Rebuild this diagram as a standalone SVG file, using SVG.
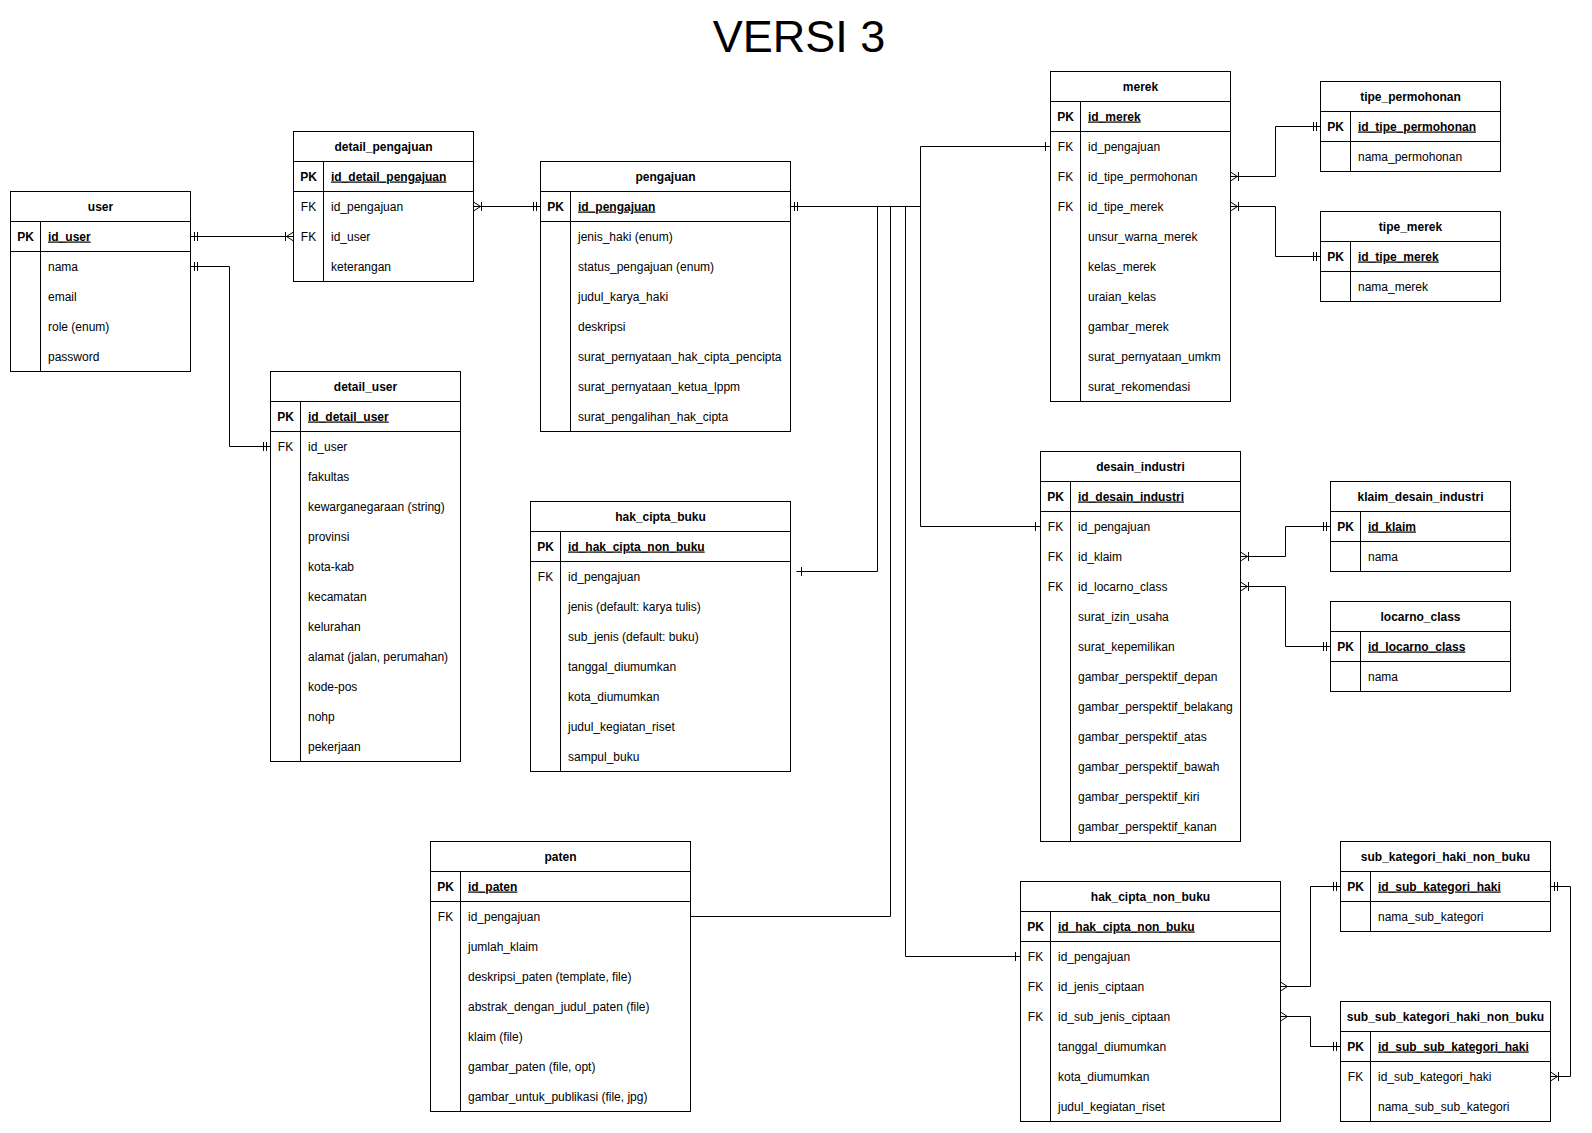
<svg xmlns="http://www.w3.org/2000/svg" width="1592" height="1133" viewBox="0 0 1592 1133">
<style>
.tb{fill:#fff;stroke:#000;stroke-width:1}
.ln{fill:none;stroke:#000;stroke-width:1}
.m{fill:none;stroke:#000;stroke-width:1}
text{font-family:"Liberation Sans",Arial,Helvetica,sans-serif;font-size:12px;fill:#000}
.h{font-weight:bold;text-anchor:middle}
.k{text-anchor:middle}
.kb{text-anchor:middle;font-weight:bold}
.pk{font-weight:bold;text-decoration:underline}
.title{font-size:45px;text-anchor:middle}
</style>
<defs>
<marker id="mandOne" markerUnits="userSpaceOnUse" orient="auto-start-reverse" refX="0" refY="0" viewBox="-12 -6 14 12" markerWidth="14" markerHeight="12" overflow="visible"><path class="m" d="M-4,-4.5V4.5M-7,-4.5V4.5"/></marker>
<marker id="one" markerUnits="userSpaceOnUse" orient="auto-start-reverse" refX="0" refY="0" viewBox="-12 -6 14 12" markerWidth="14" markerHeight="12" overflow="visible"><path class="m" d="M-5,-4.5V4.5"/></marker>
<marker id="oneToMany" markerUnits="userSpaceOnUse" orient="auto-start-reverse" refX="0" refY="0" viewBox="-12 -6 14 12" markerWidth="14" markerHeight="12" overflow="visible"><path class="m" d="M-7,0L0,-4.5M-7,0L0,4.5M-8,-4.5V4.5"/></marker>
<marker id="many" markerUnits="userSpaceOnUse" orient="auto-start-reverse" refX="0" refY="0" viewBox="-12 -6 14 12" markerWidth="14" markerHeight="12" overflow="visible"><path class="m" d="M-7,0L0,-4.5M-7,0L0,4.5"/></marker>
</defs>
<rect x="0" y="0" width="1592" height="1133" fill="#fff"/>
<text class="title" x="799" y="52">VERSI 3</text>

<g id="connectors">
<path class="ln" d="M190.5,236.5H293.5" marker-start="url(#mandOne)" marker-end="url(#oneToMany)"/>
<path class="ln" d="M190.5,266.5H229.5V446.5H270.5" marker-start="url(#mandOne)" marker-end="url(#mandOne)"/>
<path class="ln" d="M473.5,206.5H540.5" marker-start="url(#oneToMany)" marker-end="url(#mandOne)"/>
<path class="ln" d="M790.5,206.5H920.5V146.5H1050.5" marker-start="url(#mandOne)" marker-end="url(#one)"/>
<path class="ln" d="M790.5,206.5H920.5V526.5H1040.5" marker-end="url(#one)"/>
<path class="ln" d="M790.5,206.5H877.5V571.5H796.5" marker-end="url(#one)"/>
<path class="ln" d="M790.5,206.5H890.5V916.5H690.5"/>
<path class="ln" d="M790.5,206.5H905.5V956.5H1020.5" marker-end="url(#one)"/>
<path class="ln" d="M1230.5,176.5H1275.5V126.5H1320.5" marker-start="url(#oneToMany)" marker-end="url(#mandOne)"/>
<path class="ln" d="M1230.5,206.5H1275.5V256.5H1320.5" marker-start="url(#oneToMany)" marker-end="url(#mandOne)"/>
<path class="ln" d="M1240.5,556.5H1285.5V526.5H1330.5" marker-start="url(#oneToMany)" marker-end="url(#mandOne)"/>
<path class="ln" d="M1240.5,586.5H1285.5V646.5H1330.5" marker-start="url(#oneToMany)" marker-end="url(#mandOne)"/>
<path class="ln" d="M1280.5,986.5H1310.5V886.5H1340.5" marker-start="url(#many)" marker-end="url(#mandOne)"/>
<path class="ln" d="M1280.5,1016.5H1310.5V1046.5H1340.5" marker-start="url(#many)" marker-end="url(#mandOne)"/>
<path class="ln" d="M1550.5,886.5H1570.5V1076.5H1550.5" marker-start="url(#mandOne)" marker-end="url(#oneToMany)"/>
</g>

<g id="user">
<rect class="tb" x="10.5" y="191.5" width="180" height="180"/>
<path class="ln" d="M10.5,221.5H190.5M10.5,251.5H190.5M40.5,221.5V371.5"/>
<text class="h" x="100.5" y="210.5">user</text>
<text class="kb" x="25.5" y="240.5">PK</text><text class="pk" x="48" y="240.5">id_user</text>
<text x="48" y="270.5">nama</text>
<text x="48" y="300.5">email</text>
<text x="48" y="330.5">role (enum)</text>
<text x="48" y="360.5">password</text>
</g>

<g id="detail_pengajuan">
<rect class="tb" x="293.5" y="131.5" width="180" height="150"/>
<path class="ln" d="M293.5,161.5H473.5M293.5,191.5H473.5M323.5,161.5V281.5"/>
<text class="h" x="383.5" y="150.5">detail_pengajuan</text>
<text class="kb" x="308.5" y="180.5">PK</text><text class="pk" x="331" y="180.5">id_detail_pengajuan</text>
<text class="k" x="308.5" y="210.5">FK</text><text x="331" y="210.5">id_pengajuan</text>
<text class="k" x="308.5" y="240.5">FK</text><text x="331" y="240.5">id_user</text>
<text x="331" y="270.5">keterangan</text>
</g>

<g id="detail_user">
<rect class="tb" x="270.5" y="371.5" width="190" height="390"/>
<path class="ln" d="M270.5,401.5H460.5M270.5,431.5H460.5M300.5,401.5V761.5"/>
<text class="h" x="365.5" y="390.5">detail_user</text>
<text class="kb" x="285.5" y="420.5">PK</text><text class="pk" x="308" y="420.5">id_detail_user</text>
<text class="k" x="285.5" y="450.5">FK</text><text x="308" y="450.5">id_user</text>
<text x="308" y="480.5">fakultas</text>
<text x="308" y="510.5">kewarganegaraan (string)</text>
<text x="308" y="540.5">provinsi</text>
<text x="308" y="570.5">kota-kab</text>
<text x="308" y="600.5">kecamatan</text>
<text x="308" y="630.5">kelurahan</text>
<text x="308" y="660.5">alamat (jalan, perumahan)</text>
<text x="308" y="690.5">kode-pos</text>
<text x="308" y="720.5">nohp</text>
<text x="308" y="750.5">pekerjaan</text>
</g>

<g id="pengajuan">
<rect class="tb" x="540.5" y="161.5" width="250" height="270"/>
<path class="ln" d="M540.5,191.5H790.5M540.5,221.5H790.5M570.5,191.5V431.5"/>
<text class="h" x="665.5" y="180.5">pengajuan</text>
<text class="kb" x="555.5" y="210.5">PK</text><text class="pk" x="578" y="210.5">id_pengajuan</text>
<text x="578" y="240.5">jenis_haki (enum)</text>
<text x="578" y="270.5">status_pengajuan (enum)</text>
<text x="578" y="300.5">judul_karya_haki</text>
<text x="578" y="330.5">deskripsi</text>
<text x="578" y="360.5">surat_pernyataan_hak_cipta_pencipta</text>
<text x="578" y="390.5">surat_pernyataan_ketua_lppm</text>
<text x="578" y="420.5">surat_pengalihan_hak_cipta</text>
</g>

<g id="hak_cipta_buku">
<rect class="tb" x="530.5" y="501.5" width="260" height="270"/>
<path class="ln" d="M530.5,531.5H790.5M530.5,561.5H790.5M560.5,531.5V771.5"/>
<text class="h" x="660.5" y="520.5">hak_cipta_buku</text>
<text class="kb" x="545.5" y="550.5">PK</text><text class="pk" x="568" y="550.5">id_hak_cipta_non_buku</text>
<text class="k" x="545.5" y="580.5">FK</text><text x="568" y="580.5">id_pengajuan</text>
<text x="568" y="610.5">jenis (default: karya tulis)</text>
<text x="568" y="640.5">sub_jenis (default: buku)</text>
<text x="568" y="670.5">tanggal_diumumkan</text>
<text x="568" y="700.5">kota_diumumkan</text>
<text x="568" y="730.5">judul_kegiatan_riset</text>
<text x="568" y="760.5">sampul_buku</text>
</g>

<g id="paten">
<rect class="tb" x="430.5" y="841.5" width="260" height="270"/>
<path class="ln" d="M430.5,871.5H690.5M430.5,901.5H690.5M460.5,871.5V1111.5"/>
<text class="h" x="560.5" y="860.5">paten</text>
<text class="kb" x="445.5" y="890.5">PK</text><text class="pk" x="468" y="890.5">id_paten</text>
<text class="k" x="445.5" y="920.5">FK</text><text x="468" y="920.5">id_pengajuan</text>
<text x="468" y="950.5">jumlah_klaim</text>
<text x="468" y="980.5">deskripsi_paten (template, file)</text>
<text x="468" y="1010.5">abstrak_dengan_judul_paten (file)</text>
<text x="468" y="1040.5">klaim (file)</text>
<text x="468" y="1070.5">gambar_paten (file, opt)</text>
<text x="468" y="1100.5">gambar_untuk_publikasi (file, jpg)</text>
</g>

<g id="merek">
<rect class="tb" x="1050.5" y="71.5" width="180" height="330"/>
<path class="ln" d="M1050.5,101.5H1230.5M1050.5,131.5H1230.5M1080.5,101.5V401.5"/>
<text class="h" x="1140.5" y="90.5">merek</text>
<text class="kb" x="1065.5" y="120.5">PK</text><text class="pk" x="1088" y="120.5">id_merek</text>
<text class="k" x="1065.5" y="150.5">FK</text><text x="1088" y="150.5">id_pengajuan</text>
<text class="k" x="1065.5" y="180.5">FK</text><text x="1088" y="180.5">id_tipe_permohonan</text>
<text class="k" x="1065.5" y="210.5">FK</text><text x="1088" y="210.5">id_tipe_merek</text>
<text x="1088" y="240.5">unsur_warna_merek</text>
<text x="1088" y="270.5">kelas_merek</text>
<text x="1088" y="300.5">uraian_kelas</text>
<text x="1088" y="330.5">gambar_merek</text>
<text x="1088" y="360.5">surat_pernyataan_umkm</text>
<text x="1088" y="390.5">surat_rekomendasi</text>
</g>

<g id="tipe_permohonan">
<rect class="tb" x="1320.5" y="81.5" width="180" height="90"/>
<path class="ln" d="M1320.5,111.5H1500.5M1320.5,141.5H1500.5M1350.5,111.5V171.5"/>
<text class="h" x="1410.5" y="100.5">tipe_permohonan</text>
<text class="kb" x="1335.5" y="130.5">PK</text><text class="pk" x="1358" y="130.5">id_tipe_permohonan</text>
<text x="1358" y="160.5">nama_permohonan</text>
</g>

<g id="tipe_merek">
<rect class="tb" x="1320.5" y="211.5" width="180" height="90"/>
<path class="ln" d="M1320.5,241.5H1500.5M1320.5,271.5H1500.5M1350.5,241.5V301.5"/>
<text class="h" x="1410.5" y="230.5">tipe_merek</text>
<text class="kb" x="1335.5" y="260.5">PK</text><text class="pk" x="1358" y="260.5">id_tipe_merek</text>
<text x="1358" y="290.5">nama_merek</text>
</g>

<g id="desain_industri">
<rect class="tb" x="1040.5" y="451.5" width="200" height="390"/>
<path class="ln" d="M1040.5,481.5H1240.5M1040.5,511.5H1240.5M1070.5,481.5V841.5"/>
<text class="h" x="1140.5" y="470.5">desain_industri</text>
<text class="kb" x="1055.5" y="500.5">PK</text><text class="pk" x="1078" y="500.5">id_desain_industri</text>
<text class="k" x="1055.5" y="530.5">FK</text><text x="1078" y="530.5">id_pengajuan</text>
<text class="k" x="1055.5" y="560.5">FK</text><text x="1078" y="560.5">id_klaim</text>
<text class="k" x="1055.5" y="590.5">FK</text><text x="1078" y="590.5">id_locarno_class</text>
<text x="1078" y="620.5">surat_izin_usaha</text>
<text x="1078" y="650.5">surat_kepemilikan</text>
<text x="1078" y="680.5">gambar_perspektif_depan</text>
<text x="1078" y="710.5">gambar_perspektif_belakang</text>
<text x="1078" y="740.5">gambar_perspektif_atas</text>
<text x="1078" y="770.5">gambar_perspektif_bawah</text>
<text x="1078" y="800.5">gambar_perspektif_kiri</text>
<text x="1078" y="830.5">gambar_perspektif_kanan</text>
</g>

<g id="klaim_desain_industri">
<rect class="tb" x="1330.5" y="481.5" width="180" height="90"/>
<path class="ln" d="M1330.5,511.5H1510.5M1330.5,541.5H1510.5M1360.5,511.5V571.5"/>
<text class="h" x="1420.5" y="500.5">klaim_desain_industri</text>
<text class="kb" x="1345.5" y="530.5">PK</text><text class="pk" x="1368" y="530.5">id_klaim</text>
<text x="1368" y="560.5">nama</text>
</g>

<g id="locarno_class">
<rect class="tb" x="1330.5" y="601.5" width="180" height="90"/>
<path class="ln" d="M1330.5,631.5H1510.5M1330.5,661.5H1510.5M1360.5,631.5V691.5"/>
<text class="h" x="1420.5" y="620.5">locarno_class</text>
<text class="kb" x="1345.5" y="650.5">PK</text><text class="pk" x="1368" y="650.5">id_locarno_class</text>
<text x="1368" y="680.5">nama</text>
</g>

<g id="hak_cipta_non_buku">
<rect class="tb" x="1020.5" y="881.5" width="260" height="240"/>
<path class="ln" d="M1020.5,911.5H1280.5M1020.5,941.5H1280.5M1050.5,911.5V1121.5"/>
<text class="h" x="1150.5" y="900.5">hak_cipta_non_buku</text>
<text class="kb" x="1035.5" y="930.5">PK</text><text class="pk" x="1058" y="930.5">id_hak_cipta_non_buku</text>
<text class="k" x="1035.5" y="960.5">FK</text><text x="1058" y="960.5">id_pengajuan</text>
<text class="k" x="1035.5" y="990.5">FK</text><text x="1058" y="990.5">id_jenis_ciptaan</text>
<text class="k" x="1035.5" y="1020.5">FK</text><text x="1058" y="1020.5">id_sub_jenis_ciptaan</text>
<text x="1058" y="1050.5">tanggal_diumumkan</text>
<text x="1058" y="1080.5">kota_diumumkan</text>
<text x="1058" y="1110.5">judul_kegiatan_riset</text>
</g>

<g id="sub_kategori_haki_non_buku">
<rect class="tb" x="1340.5" y="841.5" width="210" height="90"/>
<path class="ln" d="M1340.5,871.5H1550.5M1340.5,901.5H1550.5M1370.5,871.5V931.5"/>
<text class="h" x="1445.5" y="860.5">sub_kategori_haki_non_buku</text>
<text class="kb" x="1355.5" y="890.5">PK</text><text class="pk" x="1378" y="890.5">id_sub_kategori_haki</text>
<text x="1378" y="920.5">nama_sub_kategori</text>
</g>

<g id="sub_sub_kategori_haki_non_buku">
<rect class="tb" x="1340.5" y="1001.5" width="210" height="120"/>
<path class="ln" d="M1340.5,1031.5H1550.5M1340.5,1061.5H1550.5M1370.5,1031.5V1121.5"/>
<text class="h" x="1445.5" y="1020.5">sub_sub_kategori_haki_non_buku</text>
<text class="kb" x="1355.5" y="1050.5">PK</text><text class="pk" x="1378" y="1050.5">id_sub_sub_kategori_haki</text>
<text class="k" x="1355.5" y="1080.5">FK</text><text x="1378" y="1080.5">id_sub_kategori_haki</text>
<text x="1378" y="1110.5">nama_sub_sub_kategori</text>
</g>
</svg>
